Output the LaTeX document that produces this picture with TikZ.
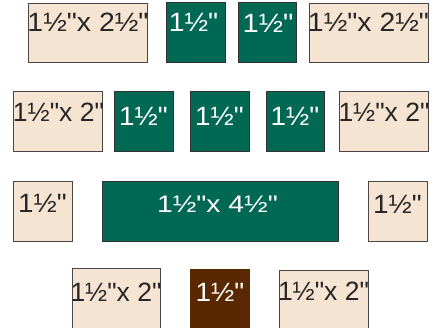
\documentclass[tikz,border=0pt]{standalone}
\usepackage{fontspec}
\usepackage{graphicx}
\newfontfamily\lib{Liberation Sans}
\definecolor{beige}{HTML}{F6E4D3}
\definecolor{grn}{HTML}{006853}
\definecolor{brn}{HTML}{5A2800}
\definecolor{edge}{HTML}{4A4646}
\newcommand\wide[2]{\scalebox{#1}[1]{#2}}
\begin{document}
\begin{tikzpicture}[x=1pt,y=-1pt,
  piece/.style={inner sep=0pt, outer sep=0pt, line width=1pt},
  bg/.style={piece, fill=beige, draw=edge},
  gr/.style={piece, fill=grn, draw=black!80},
  br/.style={piece, fill=brn},
  tx/.style={inner sep=0pt, font=\lib\fontsize{26.5}{26.5}\selectfont, text=black!85},
  tw/.style={tx, text=white}]
\useasboundingbox (0,0) rectangle (435,327);
\clip (0,0) rectangle (435,327);
% row 1
\node[bg, minimum width=119pt, minimum height=59pt] (a1) at (87.5,32.5) {};
\node[gr, minimum width=59pt, minimum height=60pt] (a2) at (195.5,32) {};
\node[gr, minimum width=58pt, minimum height=60pt] (a3) at (267,32) {};
\node[bg, minimum width=119pt, minimum height=59pt] (a4) at (368.5,32.5) {};
\node[tx] (ta1) at (88,22) {\wide{1.07}{1½"x 2½"}};
\node[tw] (ta2) at (193.5,22) {\wide{1.07}{1½"}};
\node[tw] (ta3) at (268,23) {\wide{1.1}{1½"}};
\node[tx] (ta4) at (368.5,22) {\wide{1.07}{1½"x 2½"}};
% row 2
\node[bg, minimum width=89pt, minimum height=60pt] (b1) at (57.5,121) {};
\node[gr, minimum width=59pt, minimum height=60pt] (b2) at (143.5,121) {};
\node[gr, minimum width=59pt, minimum height=60pt] (b3) at (219.5,121) {};
\node[gr, minimum width=58pt, minimum height=60pt] (b4) at (295,121) {};
\node[bg, minimum width=89pt, minimum height=60pt] (b5) at (383.5,121) {};
\node[tx] (tb1) at (58.5,112) {1½"x 2"};
\node[tw] (tb2) at (143.5,116) {\wide{1.05}{1½"}};
\node[tw] (tb3) at (219.5,116) {\wide{1.05}{1½"}};
\node[tw] (tb4) at (295,116) {\wide{1.05}{1½"}};
\node[tx] (tb5) at (384,112) {1½"x 2"};
% row 3
\node[bg, minimum width=59pt, minimum height=60pt] (c1) at (42.5,211) {};
\node[gr, minimum width=236pt, minimum height=60pt] (c2) at (220,211) {};
\node[bg, minimum width=59pt, minimum height=60pt] (c3) at (397.5,211) {};
\node[tx] (tc1) at (42.5,203) {\wide{1.05}{1½"}};
\node[tw, font=\lib\fontsize{24}{24}\selectfont] (tc2) at (217.5,204) {\wide{1.18}{1½"x 4½"}};
\node[tx] (tc3) at (397.5,204) {\wide{1.05}{1½"}};
% row 4
\node[bg, minimum width=88pt, minimum height=64pt] (d1) at (116,300) {};
\node[br, minimum width=60pt, minimum height=64pt] (d2) at (220,301) {};
\node[bg, minimum width=89pt, minimum height=64pt] (d3) at (323.5,302) {};
\node[tx] (td1) at (116,292) {1½"x 2"};
\node[tw] (td2) at (220,292) {\wide{1.05}{1½"}};
\node[tx] (td3) at (323.5,291) {1½"x 2"};
\end{tikzpicture}
\end{document}
